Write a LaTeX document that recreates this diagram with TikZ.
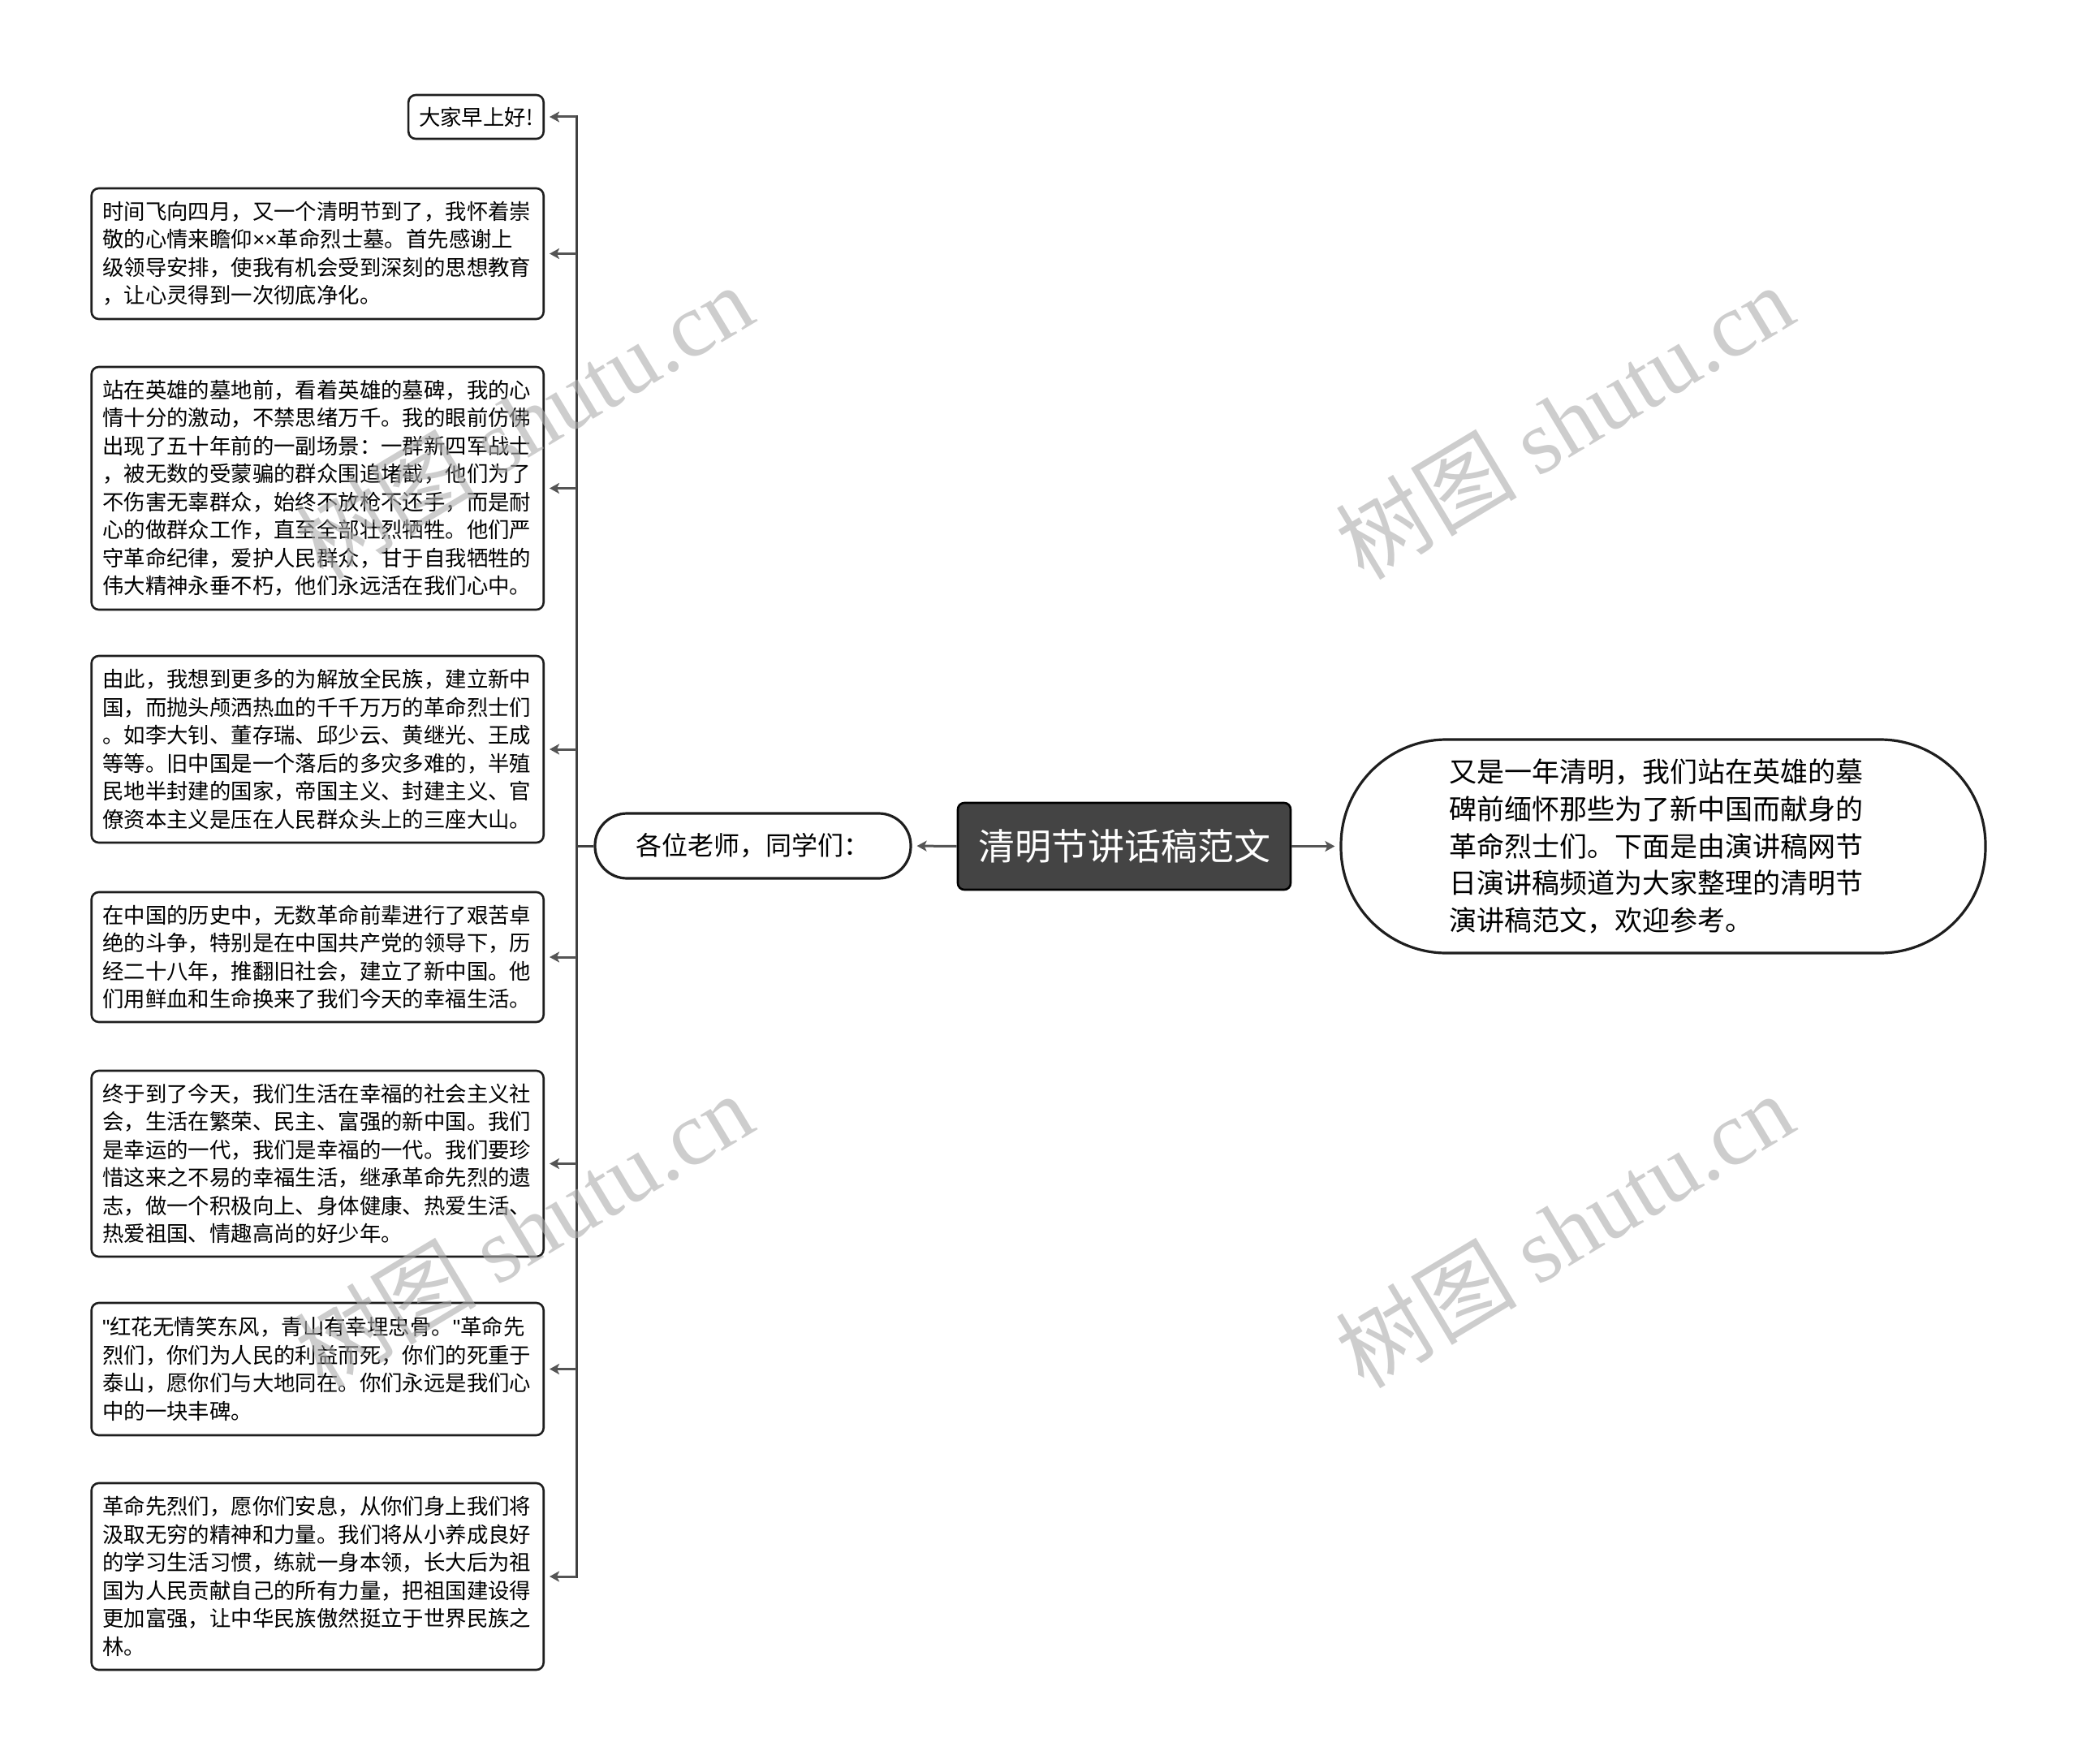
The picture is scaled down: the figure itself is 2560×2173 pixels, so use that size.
\documentclass[tikz,border=0pt]{standalone}
\usepackage{fontspec}
\setmainfont{Noto Sans CJK SC}
\newfontfamily\wmserif{Liberation Serif}
\newfontfamily\latinsans{Liberation Sans}
\usetikzlibrary{arrows.meta}
\definecolor{linec}{HTML}{555555}
\definecolor{trunkc}{HTML}{404040}
\definecolor{rootfill}{HTML}{444444}
\definecolor{boxline}{HTML}{1e1e1e}
\tikzset{
  leafbox/.style={draw=boxline, line width=2.6pt, rounded corners=9pt, fill=white,
    align=left, text width=530pt, inner xsep=13.5pt, inner ysep=0pt,
    font=\fontsize{26.4}{34.5}\selectfont, anchor=east},
  smallbox/.style={draw=boxline, line width=2.6pt, rounded corners=9pt, fill=white,
    inner xsep=13pt, inner ysep=0pt, minimum height=54pt,
    font=\fontsize{26.4}{34.5}\selectfont, anchor=east},
  rootbox/.style={draw=black, line width=2.6pt, rounded corners=8pt, fill=rootfill,
    text=white, minimum width=410pt, minimum height=107pt, inner sep=0pt,
    font=\fontsize{45}{54}\selectfont},
  pillbox/.style={draw=boxline, line width=3.2pt, fill=white, inner sep=0pt},
  trunkline/.style={draw=trunkc, line width=3pt},
  conn/.style={draw=linec, line width=3pt, -{Stealth[length=12pt,width=13pt,inset=3pt]}, shorten >=6pt},
  wmark/.style={text=black!32, opacity=0.6, font=\fontsize{112}{120}\selectfont, rotate=31, inner sep=0pt},
}
\begin{document}
\begin{tikzpicture}[x=1pt,y=-1pt]
\useasboundingbox[fill=white] (0,0) rectangle (2560,2173);

\node[rootbox] (root) at (1385,1042.5) {清明节讲话稿范文};

\node[pillbox, rounded corners=39.5pt, minimum width=389pt, minimum height=80pt,
  font=\fontsize{32}{38}\selectfont] (lnode) at (927.5,1042) {各位老师，同学们：};

\node[pillbox, rounded corners=130pt, minimum width=794pt, minimum height=263pt,
  align=left, text width=528pt, font=\fontsize{34}{45.7}\selectfont] (rnode) at (2049,1042.5)
  {又是一年清明，我们站在英雄的墓\\碑前缅怀那些为了新中国而献身的\\革命烈士们。下面是由演讲稿网节\\日演讲稿频道为大家整理的清明节\\演讲稿范文，欢迎参考。};

\node[smallbox] (b1) at (671,144) {大家早上好!};

\node[leafbox, minimum height=161pt] (b2) at (671,312.5)
  {时间飞向四月，又一个清明节到了，我怀着崇\\敬的心情来瞻仰{\latinsans ××}革命烈士墓。首先感谢上\\级领导安排，使我有机会受到深刻的思想教育\\，让心灵得到一次彻底净化。};

\node[leafbox, minimum height=299pt] (b3) at (671,601.5)
  {站在英雄的墓地前，看着英雄的墓碑，我的心\\情十分的激动，不禁思绪万千。我的眼前仿佛\\出现了五十年前的一副场景：一群新四军战士\\，被无数的受蒙骗的群众围追堵截，他们为了\\不伤害无辜群众，始终不放枪不还手，而是耐\\心的做群众工作，直至全部壮烈牺牲。他们严\\守革命纪律，爱护人民群众，甘于自我牺牲的\\伟大精神永垂不朽，他们永远活在我们心中。};

\node[leafbox, minimum height=230pt] (b4) at (671,923)
  {由此，我想到更多的为解放全民族，建立新中\\国，而抛头颅洒热血的千千万万的革命烈士们\\。如李大钊、董存瑞、邱少云、黄继光、王成\\等等。旧中国是一个落后的多灾多难的，半殖\\民地半封建的国家，帝国主义、封建主义、官\\僚资本主义是压在人民群众头上的三座大山。};

\node[leafbox, minimum height=160pt] (b5) at (671,1179)
  {在中国的历史中，无数革命前辈进行了艰苦卓\\绝的斗争，特别是在中国共产党的领导下，历\\经二十八年，推翻旧社会，建立了新中国。他\\们用鲜血和生命换来了我们今天的幸福生活。};

\node[leafbox, minimum height=229pt] (b6) at (671,1433.5)
  {终于到了今天，我们生活在幸福的社会主义社\\会，生活在繁荣、民主、富强的新中国。我们\\是幸运的一代，我们是幸福的一代。我们要珍\\惜这来之不易的幸福生活，继承革命先烈的遗\\志，做一个积极向上、身体健康、热爱生活、\\热爱祖国、情趣高尚的好少年。};

\node[leafbox, minimum height=163pt] (b7) at (671,1686.5)
  {{\latinsans"}红花无情笑东风，青山有幸埋忠骨。{\latinsans"}革命先\\烈们，你们为人民的利益而死，你们的死重于\\泰山，愿你们与大地同在。你们永远是我们心\\中的一块丰碑。};

\node[leafbox, minimum height=230pt] (b8) at (671,1942)
  {革命先烈们，愿你们安息，从你们身上我们将\\汲取无穷的精神和力量。我们将从小养成良好\\的学习生活习惯，练就一身本领，长大后为祖\\国为人民贡献自己的所有力量，把祖国建设得\\更加富强，让中华民族傲然挺立于世界民族之\\林。};

% connectors from root
\draw[conn] (root.west) -- (lnode.east);
\draw[conn] (root.east) -- (rnode.west);

% trunk
\coordinate (tk) at (710,1042);
\draw[trunkline] (lnode.west) -- (tk);
\draw[trunkline, line cap=rect] (tk |- b1.east) -- (tk |- b8.east);
\foreach \b in {b1,b2,b3,b4,b5,b6,b7,b8}{
  \draw[conn] (tk |- \b.east) -- (\b.east);
}

% watermarks
\node[wmark] (wm1) at (645,519) {树图 {\wmserif shutu.cn}};
\node[wmark] (wm2) at (1927,519) {树图 {\wmserif shutu.cn}};
\node[wmark] (wm3) at (645,1515) {树图 {\wmserif shutu.cn}};
\node[wmark] (wm4) at (1927,1515) {树图 {\wmserif shutu.cn}};
\end{tikzpicture}
\end{document}
